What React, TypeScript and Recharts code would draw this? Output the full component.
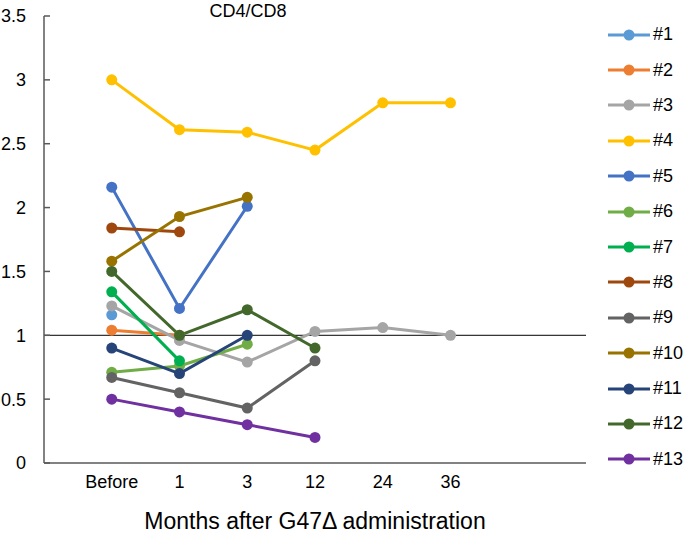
import { LineChart, Line, XAxis, YAxis, ReferenceLine, Legend, Label } from 'recharts';

const categories = ['Before', '1', '3', '12', '24', '36'];

const p1 = [1.16];
const p2 = [1.04, 1.0];
const p3 = [1.23, 0.96, 0.79, 1.03, 1.06, 1.0];
const p4 = [3.0, 2.61, 2.59, 2.45, 2.82, 2.82];
const p5 = [2.16, 1.21, 2.01];
const p6 = [0.71, 0.76, 0.93];
const p7 = [1.34, 0.8];
const p8 = [1.84, 1.81];
const p9 = [0.67, 0.55, 0.43, 0.8];
const p10 = [1.58, 1.93, 2.08];
const p11 = [0.9, 0.7, 1.0];
const p12 = [1.5, 1.0, 1.2, 0.9];
const p13 = [0.5, 0.4, 0.3, 0.2];

const patients = [
  { key: 'p1', name: '#1', values: p1, color: '#5B9BD5' },
  { key: 'p2', name: '#2', values: p2, color: '#ED7D31' },
  { key: 'p3', name: '#3', values: p3, color: '#A5A5A5' },
  { key: 'p4', name: '#4', values: p4, color: '#FFC000' },
  { key: 'p5', name: '#5', values: p5, color: '#4472C4' },
  { key: 'p6', name: '#6', values: p6, color: '#70AD47' },
  { key: 'p7', name: '#7', values: p7, color: '#00B050' },
  { key: 'p8', name: '#8', values: p8, color: '#9E480E' },
  { key: 'p9', name: '#9', values: p9, color: '#636363' },
  { key: 'p10', name: '#10', values: p10, color: '#997300' },
  { key: 'p11', name: '#11', values: p11, color: '#264478' },
  { key: 'p12', name: '#12', values: p12, color: '#43682B' },
  { key: 'p13', name: '#13', values: p13, color: '#7030A0' },
];

const yTicks = [0, 0.5, 1, 1.5, 2, 2.5, 3, 3.5];

// x positions 1..6, leaving an empty slot before "Before" and two after "36"
const data = categories.map((c, i) => {
  const row: any = { x: i + 1, label: c };
  patients.forEach((p) => {
    if (i < p.values.length) row[p.key] = p.values[i];
  });
  return row;
});

const font = 'Liberation Sans, Arial, sans-serif';

function PatientLegend() {
  return (
    <div style={{ fontFamily: font, fontSize: 18, color: '#000' }}>
      {patients.map((p) => (
        <div key={p.key} style={{ height: 35.4, display: 'flex', alignItems: 'center' }}>
          <svg width={44} height={14} style={{ marginRight: 2 }}>
            <line x1={1} y1={7} x2={43} y2={7} stroke={p.color} strokeWidth={3} />
            <circle cx={22} cy={7} r={5.5} fill={p.color} />
          </svg>
          <span>{p.name}</span>
        </div>
      ))}
    </div>
  );
}

export default function App() {
  return (
    <div style={{ position: 'relative', width: 685, height: 535, background: '#fff' }}>
      <style>{'body{margin:0}'}</style>
      <div
        style={{
          position: 'absolute',
          left: 198,
          width: 100,
          top: 1,
          textAlign: 'center',
          fontFamily: font,
          fontSize: 18,
        }}
      >
        CD4/CD8
      </div>
      <LineChart width={685} height={535} data={data} margin={{ top: 16, right: 19, bottom: 0, left: 0 }}>
        <XAxis
          dataKey="x"
          type="number"
          domain={[0, 8]}
          ticks={[1, 2, 3, 4, 5, 6]}
          tickFormatter={(v) => categories[v - 1] ?? ''}
          height={72}
          tickLine={false}
          tickMargin={6}
          stroke="#595959"
          strokeWidth={1.5}
          tick={{ fill: '#000', fontSize: 18, fontFamily: font }}
        >
          <Label
            value="Months after G47Δ administration"
            position="insideBottom"
            offset={6}
            style={{ fill: '#000', fontSize: 23, fontFamily: font }}
          />
        </XAxis>
        <YAxis
          domain={[0, 3.5]}
          ticks={yTicks}
          width={44}
          tickSize={-6}
          tickMargin={24}
          stroke="#595959"
          strokeWidth={1.5}
          tick={{ fill: '#000', fontSize: 18, fontFamily: font }}
        />
        <ReferenceLine y={1} stroke="#000" strokeWidth={1} />
        <Legend
          layout="vertical"
          verticalAlign="top"
          align="right"
          content={<PatientLegend />}
          wrapperStyle={{ left: 607, top: 17, width: 80 }}
        />
        {patients.map((p) => (
          <Line
            key={p.key}
            dataKey={p.key}
            name={p.name}
            stroke={p.color}
            strokeWidth={3}
            dot={{ r: 5.5, fill: p.color, stroke: p.color, strokeWidth: 0 }}
            activeDot={false}
            isAnimationActive={false}
          />
        ))}
      </LineChart>
    </div>
  );
}
